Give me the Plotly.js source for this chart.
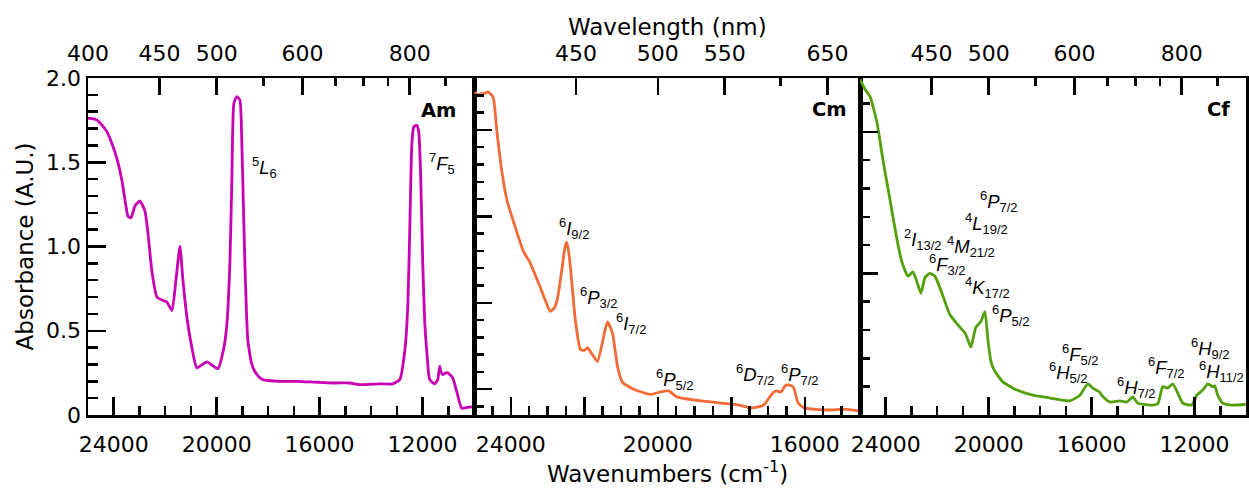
<!DOCTYPE html>
<html>
<head>
<meta charset="utf-8">
<script src="https://cdn.plot.ly/plotly-3.0.1.min.js"></script>
<style>html,body{margin:0;padding:0;background:#fff;}#chart{width:1249px;height:488px;}</style>
</head>
<body>
<div id="chart"></div>
<script>
// ---------- data (wavenumber in cm^-1, absorbance in A.U.) ----------
const amWavenumber = [25000, 24883, 24650, 24456, 24262, 24068, 23874, 23680, 23525, 23447, 23330, 23175, 22981, 22787, 22670, 22515, 22321, 22088, 21932, 21738, 21583, 21428, 21311, 21156, 20962, 20767, 20379, 19952, 19719, 19603, 19486, 19409, 19331, 19214, 19098, 19020, 18904, 18787, 18632, 18438, 18205, 17545, 16885, 16186, 15487, 14827, 14438, 13662, 13157, 12885, 12690, 12574, 12496, 12418, 12341, 12225, 12147, 12069, 11992, 11914, 11836, 11720, 11526, 11410, 11332, 11293, 11215, 11099, 11021, 10827, 10672, 10477, 10244, 10011];
const amAbsorbance = [1.76, 1.76, 1.75, 1.72, 1.68, 1.61, 1.52, 1.39, 1.24, 1.18, 1.17, 1.24, 1.27, 1.21, 1.08, 0.85, 0.70, 0.68, 0.67, 0.62, 0.80, 1.0, 0.80, 0.58, 0.40, 0.28, 0.315, 0.275, 0.40, 0.54, 0.9, 1.4, 1.85, 1.89, 1.87, 1.60, 0.9, 0.44, 0.30, 0.24, 0.21, 0.20, 0.20, 0.195, 0.19, 0.19, 0.18, 0.185, 0.185, 0.21, 0.38, 0.64, 1.1, 1.6, 1.71, 1.72, 1.68, 1.4, 0.9, 0.55, 0.38, 0.21, 0.185, 0.21, 0.29, 0.26, 0.24, 0.25, 0.25, 0.22, 0.14, 0.04, 0.045, 0.05];

const cmWavenumber = [24973, 24891, 24809, 24727, 24618, 24481, 24372, 24236, 24099, 23881, 23662, 23471, 23198, 23034, 22925, 22816, 22734, 22598, 22543, 22488, 22434, 22379, 22243, 22106, 21997, 21915, 21779, 21642, 21478, 21369, 21233, 21096, 20960, 20659, 20195, 19922, 19704, 19513, 19376, 18830, 18284, 17820, 17465, 17247, 17110, 16974, 16865, 16783, 16646, 16537, 16455, 16319, 16182, 16018, 15363, 14926, 14517];
const cmAbsorbance = [1.72, 1.70, 1.71, 1.71, 1.72, 1.69, 1.48, 1.25, 1.09, 0.94, 0.80, 0.73, 0.59, 0.50, 0.45, 0.47, 0.52, 0.71, 0.80, 0.85, 0.81, 0.71, 0.40, 0.23, 0.225, 0.24, 0.20, 0.16, 0.30, 0.39, 0.325, 0.13, 0.04, 0.0, -0.03, -0.015, -0.01, -0.04, -0.05, -0.067, -0.08, -0.09, -0.108, -0.10, -0.09, -0.05, -0.02, -0.01, -0.015, 0.02, 0.025, 0.015, -0.08, -0.108, -0.12, -0.115, -0.125];

const cfWavenumber = [25000, 24806, 24612, 24340, 24107, 23835, 23563, 23369, 23136, 22942, 22787, 22631, 22476, 22282, 22088, 21816, 21505, 21117, 20923, 20806, 20690, 20496, 20302, 20146, 20030, 19913, 19797, 19447, 18904, 18282, 17622, 16846, 16457, 16147, 15953, 15759, 15681, 15564, 15293, 14904, 14633, 14400, 14206, 13740, 13429, 13235, 13041, 12847, 12653, 12457, 12108, 11914, 11681, 11487, 11293, 11216, 11099, 10905, 10517, 10011];
const cfAbsorbance = [1.185, 1.15, 1.125, 1.033, 0.90, 0.76, 0.62, 0.54, 0.49, 0.505, 0.47, 0.43, 0.485, 0.50, 0.49, 0.43, 0.354, 0.31, 0.29, 0.265, 0.24, 0.31, 0.33, 0.365, 0.265, 0.19, 0.16, 0.117, 0.088, 0.07, 0.06, 0.05, 0.07, 0.11, 0.095, 0.085, 0.08, 0.065, 0.046, 0.05, 0.046, 0.064, 0.042, 0.035, 0.04, 0.10, 0.095, 0.11, 0.078, 0.042, 0.035, 0.07, 0.088, 0.11, 0.10, 0.103, 0.07, 0.042, 0.035, 0.038];

// tick labels
const amWnTicks = [24000, 20000, 16000, 12000];
const cmWnTicks = [24000, 22000, 20000, 18000, 16000];
const cmWnTickText = ['24000', '', '20000', '', '16000'];
const cfWnTicks = [24000, 20000, 16000, 12000];
const amWlMajor = [400, 450, 500, 600, 800];
const amWlMinor = [550, 650, 700, 750, 900];
const cmWlMajor = [450, 500, 550, 650];
const cmWlMinor = [600];
const cfWlMajor = [450, 500, 600, 800];
const cfWlMinor = [550, 650, 700, 750, 900];
const amAbsTicks = [0, 0.5, 1.0, 1.5, 2.0];
const amAbsTickText = ['0', '0.5', '1.0', '1.5', '2.0'];

// panel names and term-symbol labels
const panelNames = ['Am', 'Cm', 'Cf'];
const amTerms = ['<sup>5</sup><i>L</i><sub>6</sub>', '<sup>7</sup><i>F</i><sub>5</sub>'];
const cmTerms = ['<sup>6</sup><i>I</i><sub>9/2</sub>', '<sup>6</sup><i>P</i><sub>3/2</sub>', '<sup>6</sup><i>I</i><sub>7/2</sub>', '<sup>6</sup><i>P</i><sub>5/2</sub>', '<sup>6</sup><i>D</i><sub>7/2</sub>', '<sup>6</sup><i>P</i><sub>7/2</sub>'];
const cfTerms = ['<sup>6</sup><i>P</i><sub>7/2</sub>', '<sup>4</sup><i>L</i><sub>19/2</sub>', '<sup>2</sup><i>I</i><sub>13/2</sub>', '<sup>4</sup><i>M</i><sub>21/2</sub>', '<sup>6</sup><i>F</i><sub>3/2</sub>', '<sup>4</sup><i>K</i><sub>17/2</sub>', '<sup>6</sup><i>P</i><sub>5/2</sub>', '<sup>6</sup><i>F</i><sub>5/2</sub>', '<sup>6</sup><i>H</i><sub>5/2</sub>', '<sup>6</sup><i>H</i><sub>7/2</sub>', '<sup>6</sup><i>F</i><sub>7/2</sub>', '<sup>6</sup><i>H</i><sub>9/2</sub>', '<sup>6</sup><i>H</i><sub>11/2</sub>'];

// ---------- layout-side positions for labels (not data) ----------
const amTermPos = [[18710, 1.47], [11837, 1.49]];
const cmTermPos = [[22734, 0.93], [22161, 0.53], [21205, 0.38], [20113, 0.054], [17929, 0.083], [16701, 0.083]];
const cfTermPos = [[20418, 0.754], [21000, 0.676], [23369, 0.619], [21699, 0.594], [22398, 0.531], [21000, 0.452], [19952, 0.352], [17234, 0.212], [17739, 0.149], [15098, 0.096], [13895, 0.166], [12225, 0.234], [11914, 0.152]];
const namePos = [[10633, 1.81, 'x', 'y'], [14790, 1.615, 'x2', 'y2'], [10555, 1.079, 'x3', 'y3']];

const FONT = 'DejaVu Sans';
const TERMFONT = 'Liberation Sans';
const LW = 2.5;
const colors = {am: '#C800B4', cm: '#F26A35', cf: '#52A00C'};

function toWn(nm) { return nm.map(v => 1e7 / v); }

function bottomAxis(domain, range, tickvals, ticktext, minorDtick, anchor) {
  return {
    domain: domain, range: range, autorange: false, anchor: anchor,
    tickmode: 'array', tickvals: tickvals, ticktext: ticktext,
    ticks: 'inside', ticklen: 18, tickwidth: LW, tickcolor: '#000',
    minor: {tick0: 0, dtick: minorDtick, ticks: 'inside', ticklen: 9, tickwidth: LW, tickcolor: '#000'},
    showline: true, linewidth: LW, linecolor: '#000', mirror: true,
    showgrid: false, zeroline: false,
    tickfont: {family: FONT, size: 22, color: '#000'},
    ticklabelstandoff: 8
  };
}
function topAxis(over, anchor, range, major, minor) {
  return {
    overlaying: over, anchor: anchor, side: 'top', range: range, autorange: false,
    tickmode: 'array', tickvals: toWn(major), ticktext: major.map(String),
    ticks: 'inside', ticklen: 17, tickwidth: LW, tickcolor: '#000',
    minor: {tickmode: 'array', tickvals: toWn(minor), ticks: 'inside', ticklen: 8, tickwidth: LW, tickcolor: '#000'},
    showline: true, linewidth: LW, linecolor: '#000',
    showgrid: false, zeroline: false,
    tickfont: {family: FONT, size: 22, color: '#000'},
    ticklabelstandoff: 6
  };
}
function leftAxis(anchor, range, showLabels) {
  return {
    anchor: anchor, domain: [0, 1], range: range, autorange: false,
    tick0: 0, dtick: 0.5,
    ticks: 'inside', ticklen: 18, tickwidth: LW, tickcolor: '#000',
    minor: {tick0: 0, dtick: 0.1, ticks: 'inside', ticklen: 10, tickwidth: LW, tickcolor: '#000'},
    showline: true, linewidth: LW, linecolor: '#000', mirror: true,
    showgrid: false, zeroline: false,
    showticklabels: showLabels,
    tickfont: {family: FONT, size: 22, color: '#000'}
  };
}

const traces = [
  {x: amWavenumber, y: amAbsorbance, xaxis: 'x', yaxis: 'y', type: 'scatter', mode: 'lines',
   line: {color: colors.am, width: 2.8, shape: 'spline', smoothing: 0.5}, hoverinfo: 'skip'},
  {x: cmWavenumber, y: cmAbsorbance, xaxis: 'x2', yaxis: 'y2', type: 'scatter', mode: 'lines',
   line: {color: colors.cm, width: 2.8, shape: 'spline', smoothing: 0.5}, hoverinfo: 'skip'},
  {x: cfWavenumber, y: cfAbsorbance, xaxis: 'x3', yaxis: 'y3', type: 'scatter', mode: 'lines',
   line: {color: colors.cf, width: 2.8, shape: 'spline', smoothing: 0.5}, hoverinfo: 'skip'},
  {x: [], y: [], xaxis: 'x4', yaxis: 'y', type: 'scatter', mode: 'lines', hoverinfo: 'skip'},
  {x: [], y: [], xaxis: 'x5', yaxis: 'y2', type: 'scatter', mode: 'lines', hoverinfo: 'skip'},
  {x: [], y: [], xaxis: 'x6', yaxis: 'y3', type: 'scatter', mode: 'lines', hoverinfo: 'skip'}
];

const annotations = [];
function addTerms(texts, pos, xr, yr) {
  texts.forEach((t, i) => {
    annotations.push({text: t, x: pos[i][0], y: pos[i][1], xref: xr, yref: yr,
      xanchor: 'left', yanchor: 'middle', showarrow: false,
      font: {family: TERMFONT, size: 18.5, color: '#000'}});
  });
}
addTerms(amTerms, amTermPos, 'x', 'y');
addTerms(cmTerms, cmTermPos, 'x2', 'y2');
addTerms(cfTerms, cfTermPos, 'x3', 'y3');
panelNames.forEach((n, i) => {
  annotations.push({text: '<b>' + n + '</b>', x: namePos[i][0], y: namePos[i][1], xref: namePos[i][2], yref: namePos[i][3],
    xanchor: 'right', yanchor: 'middle', showarrow: false,
    font: {family: FONT, size: 19.5, color: '#000'}});
});
annotations.push({text: 'Wavelength (nm)', xref: 'paper', yref: 'paper', x: 0.5, y: 1.152,
  xanchor: 'center', yanchor: 'middle', showarrow: false, font: {family: FONT, size: 23, color: '#000'}});
annotations.push({text: 'Wavenumbers (cm<sup>-1</sup>)', xref: 'paper', yref: 'paper', x: 0.5, y: -0.168,
  xanchor: 'center', yanchor: 'middle', showarrow: false, font: {family: FONT, size: 23, color: '#000'}});
annotations.push({text: 'Absorbance (A.U.)', xref: 'paper', yref: 'paper', x: -0.0545, y: 0.5, textangle: -90,
  xanchor: 'center', yanchor: 'middle', showarrow: false, font: {family: FONT, size: 23, color: '#000'}});

const amRange = [25000, 10000];
const cmRange = [25000, 14500];
const cfRange = [25000, 10000];

const yAm = leftAxis('x', [0, 2.0], true);
yAm.tickmode = 'array'; yAm.tickvals = amAbsTicks; yAm.ticktext = amAbsTickText;

const layout = {
  width: 1249, height: 488,
  margin: {l: 88, r: 3, t: 78, b: 73},
  paper_bgcolor: '#fff', plot_bgcolor: 'rgba(0,0,0,0)',
  showlegend: false,
  font: {family: FONT, color: '#000'},
  xaxis: bottomAxis([0, 1/3], amRange, amWnTicks, amWnTicks.map(String), 1000, 'y'),
  xaxis2: bottomAxis([1/3, 2/3], cmRange, cmWnTicks, cmWnTickText, 500, 'y2'),
  xaxis3: bottomAxis([2/3, 1], cfRange, cfWnTicks, cfWnTicks.map(String), 1000, 'y3'),
  xaxis4: topAxis('x', 'y', amRange, amWlMajor, amWlMinor),
  xaxis5: topAxis('x2', 'y2', cmRange, cmWlMajor, cmWlMinor),
  xaxis6: topAxis('x3', 'y3', cfRange, cfWlMajor, cfWlMinor),
  yaxis: yAm,
  yaxis2: leftAxis('x2', [-0.149, 1.80], false),
  yaxis3: leftAxis('x3', [0, 1.19], false),
  annotations: annotations
};

Plotly.newPlot('chart', traces, layout, {staticPlot: true, displayModeBar: false});
</script>
</body>
</html>
